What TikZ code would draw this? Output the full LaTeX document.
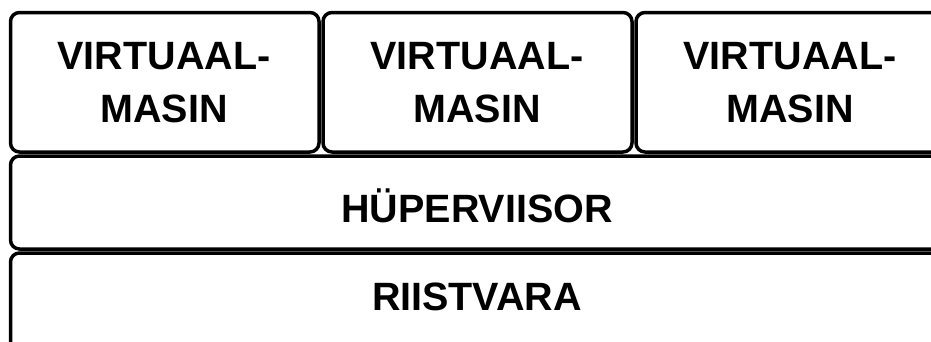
\documentclass[tikz,border=0pt]{standalone}
\usepackage{fontspec}
\setmainfont{Liberation Sans}
\begin{document}
\begin{tikzpicture}[x=1pt,y=-1pt,
  layerbox/.style={draw=black,line width=3.5pt,rounded corners=9pt,fill=white},
  lbl/.style={font=\fontsize{39.5}{53}\selectfont\bfseries,align=center,inner sep=0pt,text=black}]
\useasboundingbox (0,0) rectangle (931,341);
\clip (0,0) rectangle (931,341);
\fill[white] (0,0) rectangle (931,341);
% boxes
\draw[layerbox] (10.5,12.5) rectangle (319,152);
\draw[layerbox] (323,12.5) rectangle (632,152);
\draw[layerbox] (636,12.5) rectangle (945,152);
\draw[layerbox] (10.5,156) rectangle (945,249);
\draw[layerbox] (10.5,253) rectangle (945,400);
% labels
\node[lbl] (vm1) at (164,83) {VIRTUAAL-\\MASIN};
\node[lbl] (vm2) at (477,83) {VIRTUAAL-\\MASIN};
\node[lbl] (vm3) at (790,83) {VIRTUAAL-\\MASIN};
\node[lbl,anchor=base] (hyp) at (477,222) {HÜPERVIISOR};
\node[lbl,anchor=base] (hw) at (477,310) {RIISTVARA};
\end{tikzpicture}
\end{document}
